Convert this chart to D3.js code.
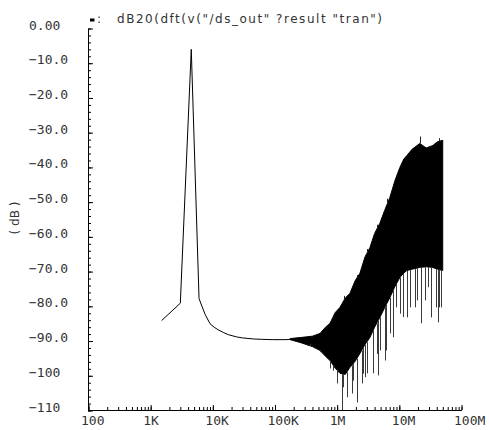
<!DOCTYPE html>
<html><head><meta charset="utf-8">
<script src="https://cdn.jsdelivr.net/npm/d3@7"></script>
<style>body{margin:0;background:#fff}svg{display:block}</style>
</head><body>
<svg id="c" width="489" height="430"></svg>
<script>
// ---- data ----
const titleText = 'dB20(dft(v("/ds_out" ?result "tran")';
const yLabelText = "( dB )";
const yMajor = [0,-10,-20,-30,-40,-50,-60,-70,-80,-90,-100,-110];
const yTickLabels = ["0.00","\u221210.0","\u221220.0","\u221230.0","\u221240.0","\u221250.0","\u221260.0","\u221270.0","\u221280.0","\u221290.0","\u2212100","\u2212110"];
const xMajor = [1e2,1e3,1e4,1e5,1e6,1e7,1e8];
const xTickLabels = ["100","1K","10K","100K","1M","10M","100M"];

// clean part of the spectrum (Hz, dB)
const lineFreq = [1500,3000,4500,6000,7500,9000,10500,12000,15000,18000,24000,30000,45000,60000,90000,150000,180000];
const lineDb   = [-84.1,-79.1,-6.0,-77.8,-82.3,-85.0,-86.0,-86.7,-87.6,-88.2,-88.8,-89.1,-89.4,-89.5,-89.6,-89.6,-89.5];

// noise band envelope (Hz, dB)
const bandFreq  = [175e3,253e3,400e3,530e3,650e3,766e3,930e3,1.11e6,1.35e6,1.60e6,1.95e6,2.32e6,2.8e6,3.36e6,4.0e6,4.86e6,5.8e6,7.03e6,8.5e6,10.2e6,11.8e6,13.2e6,16e6,21.3e6,27e6,34.5e6,41e6,49.9e6];
const bandUpper = [-89.3,-89.0,-88.6,-87.8,-86.0,-84.9,-81.8,-80.3,-77.6,-76.3,-72.6,-70.5,-65.8,-63.1,-59.0,-56.1,-52.4,-48.7,-43.8,-40.0,-37.6,-36.6,-34.8,-33.1,-34.4,-33.7,-32.6,-32.2];
const bandLower = [-89.6,-90.4,-91.6,-92.7,-94.4,-95.6,-97.8,-99.3,-99.6,-97.6,-95.8,-93.6,-91.0,-89.0,-86.0,-83.2,-80.4,-77.5,-74.3,-71.7,-70.4,-69.7,-69.3,-68.8,-68.6,-68.8,-69.3,-69.7];

// downward spikes below the band (Hz, dB)
const spikeFreq = [324e3,366e3,530e3,766e3,865e3,982e3,1.18e6,1.25e6,1.42e6,1.71e6,1.82e6,2.06e6,2.47e6,2.62e6,2.79e6,2.97e6,3.80e6,4.31e6,4.52e6,4.86e6,5.85e6,6.2e6,7.03e6,7.87e6,9.0e6,10.2e6,11.4e6,13.1e6,14.7e6,17.7e6,18.9e6,22.7e6,25.6e6,28.9e6,32.9e6,39.5e6,42.0e6,43.7e6,47.5e6];
const spikeDb   = [-91.3,-90.8,-93.2,-97.9,-98.5,-102.2,-110,-103.3,-106.2,-105.1,-101.4,-107.7,-102.2,-99.4,-100.4,-99.3,-99.3,-93.7,-99.9,-92.7,-95.6,-92.7,-87.8,-88.9,-80.3,-82.1,-83.1,-83.2,-80.3,-80.3,-78.3,-84.9,-78.3,-74.5,-83.2,-80.3,-84.6,-80.3,-80.3];
// upward spikes above the band
const upFreq = [1.3e6,2.1e6,3.0e6,4.4e6,6.4e6,21.3e6,44e6];
const upDb   = [-77.0,-71.0,-63.5,-56.5,-49.0,-31.1,-31.6];

// ---- drawing ----
const svg = d3.select("#c");
const x = d3.scaleLog().domain([1e2,1e8]).range([88.5,461.5]);
const y = d3.scaleLinear().domain([-110,0]).range([410.5,28.5]);

const bandData = bandFreq.map((f,i)=>({f, u:bandUpper[i], l:bandLower[i]}));
const interpAt = (f,key) => {
  for (let i=1;i<bandData.length;i++){
    if (f<=bandData[i].f){
      const a=bandData[i-1], b=bandData[i];
      const t=(Math.log10(f)-Math.log10(a.f))/(Math.log10(b.f)-Math.log10(a.f));
      return a[key]+t*(b[key]-a[key]);
    }
  }
  return bandData[bandData.length-1][key];
};

// band
svg.append("path")
  .datum(bandData)
  .attr("d", d3.area().x(d=>x(d.f)).y0(d=>y(d.l)).y1(d=>y(d.u)))
  .attr("fill","#000").attr("stroke","#000").attr("stroke-width",1);

// spikes
svg.append("g").selectAll("line").data(spikeFreq.map((f,i)=>({f,db:spikeDb[i]})))
  .join("line")
  .attr("x1",d=>Math.round(x(d.f))+0.5).attr("x2",d=>Math.round(x(d.f))+0.5)
  .attr("y1",d=>y(interpAt(d.f,"l"))).attr("y2",d=>y(d.db))
  .attr("stroke","#3a3a3a").attr("stroke-width",1);
svg.append("g").selectAll("line").data(upFreq.map((f,i)=>({f,db:upDb[i]})))
  .join("line")
  .attr("x1",d=>Math.round(x(d.f))+0.5).attr("x2",d=>Math.round(x(d.f))+0.5)
  .attr("y1",d=>y(interpAt(d.f,"u"))).attr("y2",d=>y(d.db))
  .attr("stroke","#222").attr("stroke-width",1);

// line
svg.append("path")
  .datum(lineFreq.map((f,i)=>({f,db:lineDb[i]})))
  .attr("d", d3.line().x(d=>x(d.f)).y(d=>y(d.db)))
  .attr("fill","none").attr("stroke","#000").attr("stroke-width",1);

// axes
const yMinor = d3.range(0,-111,-2);
const yMinorAxis = d3.axisLeft(y).tickValues(yMinor).tickSize(-3).tickSizeOuter(0).tickFormat("");
const yMajorAxis = d3.axisLeft(y).tickValues(yMajor).tickSize(-5).tickSizeOuter(0).tickFormat("");
svg.append("g").attr("transform","translate(88,0)").call(yMinorAxis);
const gy2 = svg.append("g").attr("transform","translate(88,0)").call(yMajorAxis);
gy2.select(".domain").remove();

const xMinor = [];
for (let e=2;e<8;e++) for (let m=1;m<=9;m++) xMinor.push(m*Math.pow(10,e));
xMinor.push(1e8);
const xMinorAxis = d3.axisBottom(x).tickValues(xMinor).tickSize(-3).tickSizeOuter(0).tickFormat("");
const xMajorAxis = d3.axisBottom(x).tickValues(xMajor).tickSize(-5).tickSizeOuter(0).tickFormat("");
svg.append("g").attr("transform","translate(0,410)").call(xMinorAxis);
const gx2 = svg.append("g").attr("transform","translate(0,410)").call(xMajorAxis);
gx2.select(".domain").remove();
svg.selectAll(".domain").attr("stroke","#000");
svg.selectAll(".tick line").attr("stroke","#000");

const tickFont = "'DejaVu Sans Mono', monospace";
svg.append("g").selectAll("text").data(yMajor)
  .join("text")
  .attr("x",29).attr("y",d=>y(d)+1)
  .attr("font-family",tickFont).attr("font-size",13)
  .attr("fill","#333")
  .text((d,i)=>yTickLabels[i]);

svg.append("g").selectAll("text").data(xMajor)
  .join("text")
  .attr("x",d=>x(d)-7.5).attr("y",425)
  .attr("font-family",tickFont).attr("font-size",13)
  .attr("fill","#333")
  .text((d,i)=>xTickLabels[i]);

// y label
svg.append("text")
  .attr("transform","translate(19,218) rotate(-90)")
  .attr("text-anchor","middle")
  .attr("font-family","'DejaVu Sans', sans-serif").attr("font-size",12)
  .attr("fill","#333")
  .text(yLabelText);

// legend marker + title
svg.append("rect").attr("x",90).attr("y",18.5).attr("width",4.5).attr("height",3).attr("fill","#000");
svg.append("text").attr("x",97).attr("y",22.5)
  .attr("font-family","'DejaVu Sans', sans-serif").attr("font-size",12).attr("fill","#333")
  .text(":");
svg.append("text").attr("x",117).attr("y",22.5)
  .attr("font-family","'DejaVu Sans', sans-serif").attr("font-size",12).attr("fill","#333")
  .attr("textLength",265).attr("lengthAdjust","spacing")
  .text(titleText);
</script>
</body></html>
